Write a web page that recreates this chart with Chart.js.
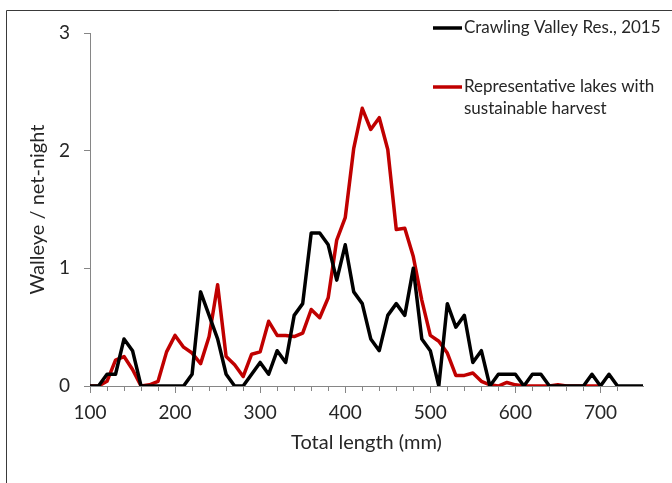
<!DOCTYPE html>
<html>
<head>
<meta charset="utf-8">
<script src="https://cdn.jsdelivr.net/npm/chart.js@4"></script>
<style>
  html, body { margin: 0; padding: 0; background: #ffffff; }
  #wrap { position: relative; width: 672px; height: 483px; }
</style>
</head>
<body>
<div id="wrap"><canvas id="c" width="672" height="483"></canvas></div>
<script>
// ---- Data ----
const lengths = [100,110,120,130,140,150,160,170,180,190,200,210,220,230,240,250,260,270,280,290,
                 300,310,320,330,340,350,360,370,380,390,400,410,420,430,440,450,460,470,480,490,
                 500,510,520,530,540,550,560,570,580,590,600,610,620,630,640,650,660,670,680,690,
                 700,710,720,730,740,750];
const crawlingValley = [0,0,0.1,0.1,0.4,0.3,0,0,0,0,0,0,0.1,0.8,0.6,0.4,0.1,0,0,0.1,
                        0.2,0.1,0.3,0.2,0.6,0.7,1.3,1.3,1.2,0.9,1.2,0.8,0.7,0.4,0.3,0.6,0.7,0.6,1.0,0.4,
                        0.3,0,0.7,0.5,0.6,0.2,0.3,0,0.1,0.1,0.1,0,0.1,0.1,0,0,0,0,0,0.1,
                        0,0.1,0,0,0,0];
const representative = [0,0,0.04,0.22,0.25,0.14,0,0.01,0.04,0.29,0.43,0.33,0.28,0.19,0.42,0.86,0.25,0.18,0.08,0.27,
                        0.29,0.55,0.43,0.43,0.42,0.45,0.65,0.58,0.75,1.24,1.43,2.02,2.36,2.18,2.28,2.01,1.33,1.34,1.10,0.73,
                        0.43,0.38,0.28,0.09,0.09,0.11,0.04,0.01,0,0.03,0.01,0,0,0,0,0.01,0,0,0,0,
                        0,null,null,null,null,null];
const seriesNames = [["Crawling Valley Res., 2015"], ["Representative lakes with", "sustainable harvest"]];
const xTitle = "Total length (mm)";
const yTitle = "Walleye / net-night";
const xMin = 100, xMax = 750, xStep = 20, xLabelEvery = 100;
const yMin = 0, yMax = 3, yStep = 1;

// ---- Styles ----
const FONT = "Lato, 'Open Sans', sans-serif";
const TEXT = "#262626";
const AXIS = "#868686";
const colors = ["#000000", "#C00000"];

function toPoints(vals) {
  return lengths.map((x, i) => ({ x: x, y: vals[i] }));
}

const framePlugin = {
  id: 'frame',
  beforeDraw(chart) {
    const ctx = chart.ctx;
    ctx.save();
    ctx.fillStyle = '#ffffff';
    ctx.fillRect(0, 0, chart.width, chart.height);
    ctx.strokeStyle = '#3a3a3a';
    ctx.lineWidth = 1;
    ctx.beginPath();
    ctx.moveTo(6.5, chart.height);
    ctx.lineTo(6.5, 10.5);
    ctx.lineTo(chart.width, 10.5);
    ctx.stroke();
    ctx.restore();
  },
  afterDraw(chart) {
    const ctx = chart.ctx;
    const xs = chart.scales.x;
    ctx.save();
    // longer tick marks at labelled positions
    ctx.strokeStyle = AXIS;
    ctx.lineWidth = 1;
    xs.ticks.forEach(t => {
      if (t.value % xLabelEvery === 0) {
        const px = Math.round(xs.getPixelForValue(t.value)) + 0.5;
        ctx.beginPath();
        ctx.moveTo(px, xs.top);
        ctx.lineTo(px, xs.top + 7);
        ctx.stroke();
      }
    });
    // legend
    const lx0 = 433, lx1 = 462, tx = 464;
    const rowsY = [[28], [87, 109]];
    ctx.font = "17px " + FONT;
    ctx.textBaseline = 'middle';
    ctx.textAlign = 'left';
    chart.data.datasets.forEach((ds, i) => {
      const y = rowsY[i][0];
      ctx.strokeStyle = ds.borderColor;
      ctx.lineWidth = 3.5;
      ctx.beginPath();
      ctx.moveTo(lx0, y);
      ctx.lineTo(lx1, y);
      ctx.stroke();
      ctx.fillStyle = TEXT;
      seriesNames[i].forEach((line, j) => {
        ctx.fillText(line, tx, rowsY[i][j]);
      });
    });
    ctx.restore();
  }
};

new Chart(document.getElementById('c'), {
  type: 'line',
  data: {
    datasets: [
      { label: seriesNames[0].join(' '), data: toPoints(crawlingValley), borderColor: colors[0],
        borderWidth: 3.5, pointRadius: 0, tension: 0, borderJoinStyle: 'round', fill: false, spanGaps: false },
      { label: seriesNames[1].join(' '), data: toPoints(representative), borderColor: colors[1],
        borderWidth: 3.5, pointRadius: 0, tension: 0, borderJoinStyle: 'round', fill: false, spanGaps: false }
    ]
  },
  options: {
    responsive: false,
    animation: false,
    devicePixelRatio: 1,
    layout: { padding: { left: 0, top: 33, right: 29, bottom: 0 } },
    plugins: { legend: { display: false }, tooltip: { enabled: false } },
    scales: {
      x: {
        type: 'linear',
        min: xMin, max: xMax,
        afterBuildTicks(scale) {
          scale.ticks = scale.ticks.filter(t => (t.value - xMin) % xStep === 0 && t.value < xMax);
        },
        afterFit(scale) { scale.height = 97; },
        ticks: {
          stepSize: xStep, autoSkip: false, maxRotation: 0, padding: 10,
          color: TEXT, font: { family: FONT, size: 19 },
          callback: v => (v % xLabelEvery === 0 ? String(v) : '')
        },
        grid: { drawOnChartArea: false, drawTicks: true, tickLength: 5, color: AXIS },
        border: { display: true, color: AXIS, width: 1 },
        title: { display: true, text: xTitle, color: TEXT, font: { family: FONT, size: 20 },
                 padding: { top: 0, bottom: 28 } }
      },
      y: {
        min: yMin, max: yMax,
        afterFit(scale) { scale.width = 90; },
        ticks: { stepSize: yStep, padding: 14, color: TEXT, font: { family: FONT, size: 19 } },
        grid: { drawOnChartArea: false, drawTicks: true, tickLength: 6, color: AXIS },
        border: { display: true, color: AXIS, width: 1 },
        title: { display: true, text: yTitle, color: TEXT, font: { family: FONT, size: 20 },
                 padding: { top: 26, bottom: 0 } }
      }
    }
  },
  plugins: [framePlugin]
});
</script>
</body>
</html>
